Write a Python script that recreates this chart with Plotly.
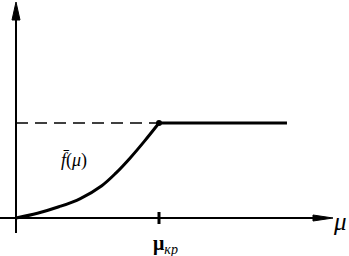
import plotly.graph_objects as go

# data (units: mu_cr = 1, saturation level = 1)
mu_curve = [0.0, 0.15, 0.30, 0.45, 0.60, 0.70, 0.80, 0.90, 1.0]
f_curve = [0.0, 0.05, 0.118, 0.205, 0.34, 0.475, 0.635, 0.812, 1.0]
mu_flat = [1.0, 1.895]
f_flat = [1.0, 1.0]
mu_cr = 1.0
f_sat = 1.0

W, H = 349, 256
x0px, y0px = 16, 218
sx, sy = 143.0, 95.0
xr = [-x0px / sx, (W - x0px) / sx]
yr = [(y0px - H) / sy, y0px / sy]

def px(v):
    return v / sx

def py(v):
    return v / sy

fig = go.Figure()
fig.add_trace(go.Scatter(x=mu_curve, y=f_curve, mode="lines",
                         line=dict(color="black", width=3, shape="spline", smoothing=1.0),
                         hoverinfo="skip"))
fig.add_trace(go.Scatter(x=mu_flat, y=f_flat, mode="lines",
                         line=dict(color="black", width=3), hoverinfo="skip"))
fig.add_trace(go.Scatter(x=[mu_cr], y=[f_sat], mode="markers",
                         marker=dict(color="black", size=6), hoverinfo="skip"))

shapes = [
    # y axis
    dict(type="line", x0=0, x1=0, y0=-py(15), y1=py(198), line=dict(color="black", width=2)),
    dict(type="path", path=f"M {-px(4)},{py(198)} L 0,{py(216)} L {px(4)},{py(198)} Z",
         fillcolor="black", line=dict(color="black", width=1)),
    # x axis
    dict(type="line", x0=-px(16), x1=px(298), y0=0, y1=0, line=dict(color="black", width=2)),
    dict(type="path", path=f"M {px(297)},{-py(3)} L {px(317)},0 L {px(297)},{py(3)} Z",
         fillcolor="black", line=dict(color="black", width=1)),
    # dashed level
    dict(type="line", x0=0, x1=mu_cr, y0=f_sat, y1=f_sat,
         line=dict(color="black", width=1.6, dash="12px,7px")),
    # tick at mu_cr
    dict(type="line", x0=mu_cr, x1=mu_cr, y0=-py(6), y1=py(6), line=dict(color="black", width=3)),
]

annotations = [
    dict(x=px(324), y=-py(3), text="<i>μ</i>", showarrow=False,
         font=dict(family="Liberation Serif", size=25, color="black")),
    dict(x=mu_cr + px(6), y=-py(26), text="<b>μ</b><sub><i>кр</i></sub>", showarrow=False,
         font=dict(family="Liberation Serif", size=20, color="black")),
    dict(x=px(58), y=py(58), text="<i>f̄</i>(<i>μ</i>)", showarrow=False,
         font=dict(family="Liberation Serif", size=18, color="black")),
]

fig.update_layout(
    width=W, height=H, margin=dict(l=0, r=0, t=0, b=0),
    plot_bgcolor="white", paper_bgcolor="white", showlegend=False,
    xaxis=dict(range=xr, visible=False, fixedrange=True),
    yaxis=dict(range=yr, visible=False, fixedrange=True),
    shapes=shapes, annotations=annotations,
)
fig.write_html("out.html", config={"displayModeBar": False},
               post_script="document.body.style.margin='0';document.body.style.overflow='hidden';")
